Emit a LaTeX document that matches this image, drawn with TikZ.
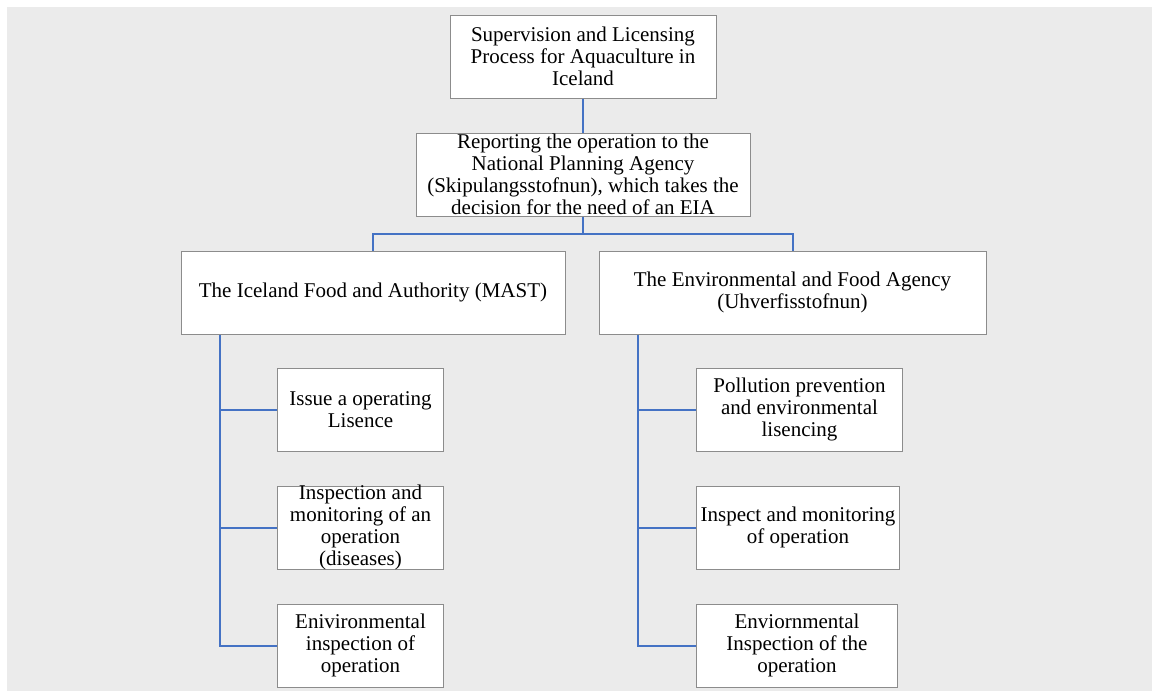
\documentclass[tikz,border=0pt]{standalone}
\usepackage{fontspec}
\newfontfamily\chartfont{Liberation Serif}
\usepackage{tikz}
\definecolor{pagegray}{HTML}{EBEBEB}
\definecolor{boxgray}{HTML}{8C8C8C}
\definecolor{linkblue}{HTML}{4472C4}
\tikzset{
  orgbox/.style={
    draw=boxgray,
    fill=white,
    line width=1pt,
    align=center,
    inner sep=1pt,
    minimum height=83pt,
    font={\chartfont\fontsize{21}{21.8}\selectfont}
  },
  link/.style={
    draw=linkblue,
    line width=2pt
  }
}

\begin{document}
\begin{tikzpicture}[
    x=1pt, y=-1pt,
    every node/.style={orgbox}
    ]
  \useasboundingbox (0,0) rectangle (1152,691);
  \fill[pagegray] (7,7) rectangle (1152,691);
  \node[minimum width=266pt] (title) at (583,56.5)
    {Supervision and Licensing\\Process for Aquaculture in\\Iceland};
  \node[minimum width=334pt] (report) at (583,174.5)
    {Reporting the operation to the\\National Planning Agency\\(Skipulangsstofnun), which takes the\\decision for the need of an EIA};
  \node[minimum width=384pt] (mast) at (373,292.5)
    {The Iceland Food and Authority (MAST)};
  \node[minimum width=387pt] (ust) at (792.5,292.5)
    {The Environmental and Food Agency\\(Uhverfisstofnun)};
  \node[minimum width=166pt, anchor=west] (mastlic) at (277,409.5)
    {Issue a operating\\Lisence};
  \node[minimum width=166pt, inner ysep=-1.5pt, anchor=west] (mastinsp) at (277,527.5)
    {Inspection and\\monitoring of an\\operation\\(diseases)};
  \node[minimum width=166pt, anchor=west] (mastenv) at (277,645.5)
    {Enivironmental\\inspection of\\operation};
  \node[minimum width=206pt, anchor=west] (ustlic) at (696,409.5)
    {Pollution prevention\\and environmental\\lisencing};
  \node[minimum width=203pt, anchor=west] (ustinsp) at (696,527.5)
    {Inspect and monitoring\\of operation};
  \node[minimum width=201pt, anchor=west] (ustenv) at (696,645.5)
    {Enviornmental\\Inspection of the\\operation};
  \coordinate (bus) at ([yshift=-17pt]report.south);
  \coordinate (mastleg) at ([xshift=39pt]mast.south west);
  \coordinate (ustleg) at ([xshift=39pt]ust.south west);
  \draw[link] (title) -- (report);
  \draw[link] (report) -- (bus) -| (mast);
  \draw[link] (bus) -| (ust);
  \draw[link] (mastleg) |- (mastenv);
  \draw[link] (mastleg |- mastlic) -- (mastlic);
  \draw[link] (mastleg |- mastinsp) -- (mastinsp);
  \draw[link] (ustleg) |- (ustenv);
  \draw[link] (ustleg |- ustlic) -- (ustlic);
  \draw[link] (ustleg |- ustinsp) -- (ustinsp);
\end{tikzpicture}
\end{document}
